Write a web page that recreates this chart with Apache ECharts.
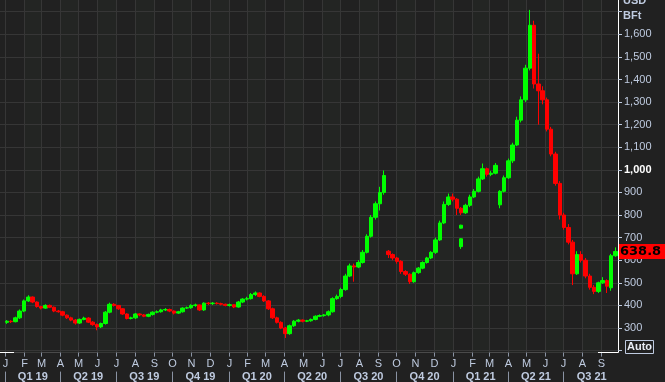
<!DOCTYPE html>
<html><head><meta charset="utf-8">
<script src="https://cdn.jsdelivr.net/npm/echarts@6/dist/echarts.min.js"></script>
<style>html,body{margin:0;padding:0;background:#212121;}#c{width:665px;height:382px;}</style>
</head><body><div id="c"></div>
<script>
const dates = [
'2019-01-04','2019-01-11','2019-01-18','2019-01-25','2019-02-01','2019-02-08','2019-02-15','2019-02-22','2019-03-01','2019-03-08',
'2019-03-15','2019-03-22','2019-03-29','2019-04-05','2019-04-12','2019-04-19','2019-04-26','2019-05-03','2019-05-10','2019-05-17',
'2019-05-24','2019-05-31','2019-06-07','2019-06-14','2019-06-21','2019-06-28','2019-07-05','2019-07-12','2019-07-19','2019-07-26',
'2019-08-02','2019-08-09','2019-08-16','2019-08-23','2019-08-30','2019-09-06','2019-09-13','2019-09-20','2019-09-27','2019-10-04',
'2019-10-11','2019-10-18','2019-10-25','2019-11-01','2019-11-08','2019-11-15','2019-11-22','2019-11-29','2019-12-06','2019-12-13',
'2019-12-20','2019-12-27','2020-01-03','2020-01-10','2020-01-17','2020-01-24','2020-01-31','2020-02-07','2020-02-14','2020-02-21',
'2020-02-28','2020-03-06','2020-03-13','2020-03-20','2020-03-27','2020-04-03','2020-04-10','2020-04-17','2020-04-24','2020-05-01',
'2020-05-08','2020-05-15','2020-05-22','2020-05-29','2020-06-05','2020-06-12','2020-06-19','2020-06-26','2020-07-03','2020-07-10',
'2020-07-17','2020-07-24','2020-07-31','2020-08-07','2020-08-14','2020-08-21','2020-08-28','2020-09-04','2020-09-11','2020-09-18',
'2020-09-25','2020-10-02','2020-10-09','2020-10-16','2020-10-23','2020-10-30','2020-11-06','2020-11-13','2020-11-20','2020-11-27',
'2020-12-04','2020-12-11','2020-12-18','2020-12-25','2021-01-01','2021-01-08','2021-01-15','2021-01-22','2021-01-29','2021-02-05',
'2021-02-12','2021-02-19','2021-02-26','2021-03-05','2021-03-12','2021-03-19','2021-03-26','2021-04-02','2021-04-09','2021-04-16',
'2021-04-23','2021-04-30','2021-05-07','2021-05-14','2021-05-21','2021-05-28','2021-06-04','2021-06-11','2021-06-18','2021-06-25',
'2021-07-02','2021-07-09','2021-07-16','2021-07-23','2021-07-30','2021-08-06','2021-08-13','2021-08-20','2021-08-27','2021-09-03',
'2021-09-10','2021-09-17','2021-09-24'];
const opens = [
325,330,328,345,375,420,437,415,395,388,
400,392,375,372,357,345,335,322,338,344,
326,315,305,320,370,405,400,385,362,342,
345,362,358,352,360,370,372,380,382,375,
366,372,388,390,400,402,380,410,408,410,
408,405,400,403,393,415,428,430,448,455,
440,420,385,345,325,300,275,310,330,335,
330,332,338,352,355,358,372,430,440,470,
530,575,570,590,635,706,790,850,900,640,
625,610,595,550,538,505,545,565,590,610,
635,690,765,847,880,870,830,810,843,880,
905,960,1005,980,985,845,905,965,1040,1110,
1220,1310,1450,1640,1380,1350,1310,1180,1070,940,
800,745,680,540,625,600,530,480,462,500,
510,478,620];
const closes = [
330,328,345,375,420,437,415,395,388,400,
392,375,372,357,345,335,322,338,344,326,
315,305,320,370,405,400,385,362,342,345,
362,358,352,360,370,372,380,382,375,366,
372,388,390,400,402,380,410,408,410,408,
405,400,403,393,415,428,430,448,455,440,
420,385,345,325,300,275,310,330,335,330,
332,338,352,355,358,372,430,440,470,530,
575,570,590,635,706,790,850,900,975,625,
610,595,550,538,505,545,565,590,610,635,
690,765,847,880,870,830,810,843,880,905,
960,1005,980,985,1020,905,965,1040,1110,1220,
1310,1450,1640,1380,1350,1310,1180,1070,940,800,
745,680,540,625,600,530,480,462,500,510,
485,620,638.8];
const lows = [
318,322,325,340,370,415,410,390,382,385,
388,370,368,352,340,330,315,318,334,322,
310,290,300,315,365,395,380,358,338,338,
340,352,348,348,355,365,368,375,370,360,
362,368,384,385,394,375,376,402,402,404,
400,396,395,388,390,410,422,426,442,436,
415,380,340,320,295,256,270,305,325,325,
326,328,334,348,350,352,368,425,432,465,
525,505,565,585,630,700,780,820,890,610,
600,585,540,530,495,500,540,560,585,605,
628,685,760,840,860,800,800,805,835,875,
900,955,970,972,980,830,900,960,1030,1105,
1210,1300,1440,1360,1200,1290,1170,1060,930,780,
735,670,490,535,590,520,470,450,455,495,
455,465,615];
const highs = [
335,334,350,382,426,445,440,418,398,405,
404,395,380,376,360,350,340,342,350,348,
330,320,324,375,412,410,402,388,365,350,
366,365,362,364,374,378,385,388,386,378,
376,392,395,405,408,404,414,415,415,414,
412,408,408,405,420,432,438,455,462,458,
445,424,390,350,330,305,315,335,340,338,
336,342,356,360,362,378,436,448,478,540,
585,585,600,645,715,800,860,925,997,645,
630,615,600,556,542,550,570,595,615,640,
700,775,860,895,895,875,835,850,890,915,
970,1028,1010,995,1030,910,975,1050,1120,1235,
1325,1465,1708,1660,1514,1370,1320,1190,1080,950,
810,760,690,640,640,610,540,490,505,525,
515,628,657];
// stray prints seen below the main path in mid-January 2021
const strayDates = ['2021-01-15','2021-01-15'];
const strayOpens = [742,660];
const strayCloses = [755,695];
const strayLows = [740,650];
const strayHighs = [757,697];
const lastPrice = 638.8;

const monthStarts = ['2019-01-01','2019-02-01','2019-03-01','2019-04-01','2019-05-01','2019-06-01','2019-07-01','2019-08-01','2019-09-01','2019-10-01','2019-11-01','2019-12-01',
'2020-01-01','2020-02-01','2020-03-01','2020-04-01','2020-05-01','2020-06-01','2020-07-01','2020-08-01','2020-09-01','2020-10-01','2020-11-01','2020-12-01',
'2021-01-01','2021-02-01','2021-03-01','2021-04-01','2021-05-01','2021-06-01','2021-07-01','2021-08-01','2021-09-01','2021-10-01'];
const monthLabels = ['J','F','M','A','M','J','J','A','S','O','N','D','J','F','M','A','M','J','J','A','S','O','N','D','J','F','M','A','M','J','J','A','S'];
const quarterStarts = ['2019-01-01','2019-04-01','2019-07-01','2019-10-01','2020-01-01','2020-04-01','2020-07-01','2020-10-01','2021-01-01','2021-04-01','2021-07-01','2021-10-01'];
const quarterLabels = ['Q1 19','Q2 19','Q3 19','Q4 19','Q1 20','Q2 20','Q3 20','Q4 20','Q1 21','Q2 21','Q3 21'];

const TXT = '#bfcbe0';
const GRID = '#363636';
const candleData = dates.map((d,i)=>[d, opens[i], closes[i], lows[i], highs[i]]);
const strayData = strayDates.map((d,i)=>[d, strayOpens[i], strayCloses[i], strayLows[i], strayHighs[i]]);
const monthData = monthLabels.map((l,i)=>[monthStarts[i], 300]);
const quarterData = quarterLabels.map((l,i)=>[quarterStarts[i], 300]);

function fmt(v){ return v>=1000 ? Math.floor(v/1000)+','+String(v%1000).padStart(3,'0') : String(v); }

const chart = echarts.init(document.getElementById('c'));
const candleStyle = {color:'#00ff00', color0:'#ff0000', borderColor:'#00ff00', borderColor0:'#ff0000', borderWidth:1};
chart.setOption({
  animation:false,
  backgroundColor:'#212121',
  grid:{left:0, right:47, top:11.7, bottom:31.4},
  xAxis:{type:'time', min:'2018-12-23 20:00', max:'2021-09-28 02:00',
    axisLine:{show:false}, axisTick:{show:false}, axisLabel:{show:false}, splitLine:{show:false}},
  yAxis:{type:'value', position:'right', min:200, max:1700, interval:100,
    axisLine:{show:true, lineStyle:{color:'#ffffff', width:1}},
    axisTick:{show:true, length:4, lineStyle:{color:TXT}},
    axisLabel:{margin:6, color:TXT, fontFamily:'Liberation Sans', fontSize:11,
      formatter:v=> (v===200||v===1700) ? '' : (v===1000 ? '{b|1,000}' : fmt(v)),
      rich:{b:{color:'#ffffff', fontWeight:'bold', fontSize:11, fontFamily:'Liberation Sans'}}},
    splitLine:{show:true, lineStyle:{color:GRID, width:1}}},
  series:[
    {type:'custom', z:-1, silent:true, clip:false, data:monthData, encode:{x:0,y:1},
      renderItem:(params, api)=>{
        const cs = params.coordSys; const i = params.dataIndex;
        const x = Math.round(api.coord([api.value(0), 300])[0]) + 0.5;
        const base = cs.y + cs.height + 2;
        const ch = [];
        if (i % 2 === 1) {
          const nx = Math.min(Math.round(api.coord([Date.parse(monthStarts[i+1]), 300])[0]), cs.x + cs.width);
          ch.push({type:'rect', shape:{x:x, y:0, width:nx - x, height:base}, style:{fill:'#232523'}});
        }
        ch.push({type:'line', shape:{x1:x, y1:0, x2:x, y2:base}, style:{stroke:GRID, lineWidth:1}});
        ch.push({type:'line', shape:{x1:x, y1:base, x2:x, y2:base+4}, style:{stroke:'#8a93a3', lineWidth:1}});
        ch.push({type:'text', style:{x:x, y:base+6, text:monthLabels[i], fill:TXT, font:'11px "Liberation Sans"', textAlign:'center', textVerticalAlign:'top'}});
        return {type:'group', children:ch};
      }},
    {type:'custom', z:-1, silent:true, clip:false, data:quarterData, encode:{x:0,y:1},
      renderItem:(params, api)=>{
        const cs = params.coordSys; const i = params.dataIndex;
        const x = Math.round(api.coord([api.value(0), 300])[0]) + 0.5;
        const nx = api.coord([Date.parse(quarterStarts[i+1]), 300])[0];
        const base = cs.y + cs.height + 2;
        return {type:'group', children:[
          {type:'line', shape:{x1:x, y1:base+19, x2:x, y2:base+30}, style:{stroke:'#8a93a3', lineWidth:1}},
          {type:'text', style:{x:(x+nx)/2, y:base+19, text:quarterLabels[i], fill:TXT, font:'bold 11px "Liberation Sans"', textAlign:'center', textVerticalAlign:'top'}}
        ]};
      }},
    {type:'candlestick', name:'BFt', data:candleData, encode:{x:0, y:[1,2,3,4]}, barWidth:4, clip:false,
      itemStyle:candleStyle,
      markLine:{silent:true, symbol:['none','none'], data:[{yAxis:lastPrice}], lineStyle:{color:'rgba(0,0,0,0)', width:0},
        label:{show:true, position:'end', distance:1, formatter:String(lastPrice), color:'#000000', backgroundColor:'#ff0000',
          fontFamily:'DejaVu Sans', fontWeight:'bold', fontSize:13, padding:[1,5,0,1], lineHeight:14}}},
    {type:'candlestick', name:'stray', data:strayData, encode:{x:0, y:[1,2,3,4]}, barWidth:4, clip:false, itemStyle:candleStyle}
  ],
  graphic:[
    {type:'line', shape:{x1:0, y1:352.5, x2:618, y2:352.5}, style:{stroke:'#4a4a4a', lineWidth:1}, z:-2},
    {type:'line', shape:{x1:0, y1:352.5, x2:14, y2:352.5}, style:{stroke:'#ffffff', lineWidth:1}},
    {type:'line', shape:{x1:598, y1:352.5, x2:618.5, y2:352.5}, style:{stroke:'#ffffff', lineWidth:1}},
    {type:'line', shape:{x1:618.5, y1:0, x2:618.5, y2:352.5}, style:{stroke:'#ffffff', lineWidth:1}},
    {type:'text', left:623, top:-5, style:{text:'USD', fill:TXT, font:'bold 11px "Liberation Sans"'}},
    {type:'text', left:623, top:10, style:{text:'BFt', fill:TXT, font:'bold 11px "Liberation Sans"'}},
    {type:'rect', shape:{x:625.5, y:340.5, width:28, height:13}, style:{fill:'none', stroke:TXT, lineWidth:1}},
    {type:'text', left:627, top:341, style:{text:'Auto', fill:'#e8ecf4', font:'bold 11px "Liberation Sans"'}}
  ]
});
</script></body></html>
